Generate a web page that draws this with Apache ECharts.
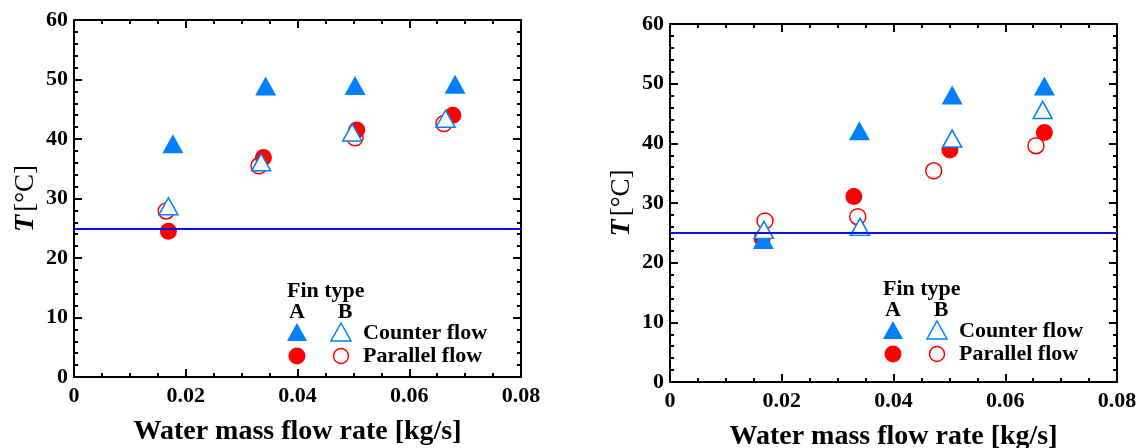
<!DOCTYPE html>
<html>
<head>
<meta charset="utf-8">
<script src="https://cdn.jsdelivr.net/npm/echarts@6/dist/echarts.min.js"></script>
<style>
  html, body { margin: 0; padding: 0; background: #fff; }
  #chart { width: 1145px; height: 448px; }
</style>
</head>
<body>
<div id="chart"></div>
<script>
// left panel data [flow rate kg/s, T °C]
var leftCounterA = [[0.0177, 39.2], [0.0343, 48.9], [0.0503, 49.0], [0.0682, 49.2]];
var leftCounterB = [[0.0169, 28.7], [0.0335, 36.1], [0.0498, 41.1], [0.0665, 43.4]];
var leftParallelA = [[0.0169, 24.5], [0.0339, 36.9], [0.0506, 41.5], [0.0678, 44.0]];
var leftParallelB = [[0.0165, 27.9], [0.0331, 35.5], [0.0503, 40.2], [0.0662, 42.6]];

// right panel data
var rightCounterA = [[0.0167, 23.9], [0.0339, 42.1], [0.0505, 48.1], [0.0670, 49.6]];
var rightCounterB = [[0.0168, 25.5], [0.0340, 26.0], [0.0505, 40.8], [0.0667, 45.6]];
var rightParallelA = [[0.0165, 24.1], [0.0329, 31.1], [0.0501, 38.9], [0.0670, 41.8]];
var rightParallelB = [[0.0170, 27.0], [0.0336, 27.7], [0.0472, 35.4], [0.0655, 39.6]];

var ambientT = 25;

var serif = "Liberation Serif";
var blue = '#0080ff';
var red = '#ff0000';

var chart = echarts.init(document.getElementById('chart'));

function xAxisOf(grid, pos) {
  var main = pos === 'bottom';
  return {
    type: 'value', gridIndex: grid, position: pos,
    min: 0, max: 0.08, interval: 0.02,
    name: main ? 'Water mass flow rate [kg/s]' : '',
    nameLocation: 'middle', nameGap: 41,
    nameTextStyle: { fontFamily: serif, fontWeight: 'bold', fontSize: 28, color: '#000' },
    axisLine: { show: true, onZero: false, lineStyle: { color: '#000', width: 2 } },
    axisTick: { show: true, inside: true, length: 8, lineStyle: { color: '#000', width: 2 } },
    minorTick: { show: true, splitNumber: 4, length: 4, lineStyle: { color: '#000', width: 2 } },
    splitLine: { show: false },
    axisLabel: {
      show: main, margin: 8, fontFamily: serif, fontWeight: 'bold', fontSize: 22, color: '#000',
      formatter: function (v) { return v === 0 ? '0' : v.toFixed(2); }
    }
  };
}

function yAxisOf(grid, pos) {
  var main = pos === 'left';
  return {
    type: 'value', gridIndex: grid, position: pos,
    min: 0, max: 60, interval: 10,
    name: main ? '{i|T} {n|[°C]}' : '',
    nameLocation: 'middle', nameGap: 34,
    nameTextStyle: {
      rich: {
        i: { fontFamily: serif, fontWeight: 'bold', fontStyle: 'italic', fontSize: 28, color: '#000' },
        n: { fontFamily: serif, fontSize: 27, color: '#000' }
      }
    },
    axisLine: { show: true, onZero: false, lineStyle: { color: '#000', width: 2 } },
    axisTick: { show: true, inside: true, length: 8, lineStyle: { color: '#000', width: 2 } },
    minorTick: { show: true, splitNumber: 5, length: 4, lineStyle: { color: '#000', width: 2 } },
    splitLine: { show: false },
    axisLabel: { show: main, margin: 6, fontFamily: serif, fontWeight: 'bold', fontSize: 22, color: '#000' }
  };
}

var tri = 'path://M0,-10L10,8L-10,8Z';

function panelSeries(idx, counterA, counterB, parallelA, parallelB) {
  return [
    {
      name: 'Parallel flow B', type: 'scatter', xAxisIndex: idx * 2, yAxisIndex: idx * 2,
      data: parallelB, symbol: 'circle', symbolSize: 16,
      itemStyle: { color: 'rgba(255,255,255,0)', borderColor: red, borderWidth: 1.5, opacity: 1 },
      markLine: {
        silent: true, symbol: 'none', label: { show: false },
        lineStyle: { color: '#1010ee', width: 2, type: 'solid' },
        data: [{ yAxis: ambientT }]
      }
    },
    {
      name: 'Parallel flow A', type: 'scatter', xAxisIndex: idx * 2, yAxisIndex: idx * 2,
      data: parallelA, symbol: 'circle', symbolSize: 17,
      itemStyle: { color: red, opacity: 1 }
    },
    {
      name: 'Counter flow A', type: 'scatter', xAxisIndex: idx * 2, yAxisIndex: idx * 2,
      data: counterA, symbol: tri, symbolSize: [21, 19],
      itemStyle: { color: blue, opacity: 1 }
    },
    {
      name: 'Counter flow B', type: 'scatter', xAxisIndex: idx * 2, yAxisIndex: idx * 2,
      data: counterB, symbol: tri, symbolSize: [19, 17],
      itemStyle: { color: '#fff', borderColor: blue, borderWidth: 1.5, opacity: 1 }
    }
  ];
}

function legendOf(x0, y0) {
  var t = { fontFamily: serif, fontWeight: 'bold', fontSize: 22, fill: '#000' };
  function txt(x, y, s, align) {
    return { type: 'text', x: x, y: y, style: Object.assign({ text: s, align: align || 'left', verticalAlign: 'middle' }, t) };
  }
  function triangle(x, y, filled) {
    return {
      type: 'polygon', x: x, y: y,
      shape: { points: [[0, -10], [10, 8], [-10, 8]] },
      style: filled ? { fill: blue } : { fill: '#fff', stroke: blue, lineWidth: 1.5 }
    };
  }
  function dot(x, y, filled) {
    return {
      type: 'circle', x: x, y: y, shape: { r: filled ? 8.5 : 7.5 },
      style: filled ? { fill: red } : { fill: 'none', stroke: red, lineWidth: 1.5 }
    };
  }
  return [
    txt(x0 - 10, y0, 'Fin type'),
    txt(x0, y0 + 21, 'A', 'center'),
    txt(x0 + 48, y0 + 21, 'B', 'center'),
    triangle(x0, y0 + 42, true),
    triangle(x0 + 44, y0 + 42, false),
    txt(x0 + 66, y0 + 42, 'Counter flow'),
    dot(x0, y0 + 65, true),
    dot(x0 + 44, y0 + 65, false),
    txt(x0 + 66, y0 + 65, 'Parallel flow')
  ];
}

var option = {
  animation: false,
  backgroundColor: '#fff',
  textStyle: { fontFamily: serif },
  grid: [
    { left: 74, top: 20, width: 447, height: 357, outerBoundsMode: 'none' },
    { left: 670, top: 24, width: 447, height: 358, outerBoundsMode: 'none' }
  ],
  xAxis: [xAxisOf(0, 'bottom'), xAxisOf(0, 'top'), xAxisOf(1, 'bottom'), xAxisOf(1, 'top')],
  yAxis: [yAxisOf(0, 'left'), yAxisOf(0, 'right'), yAxisOf(1, 'left'), yAxisOf(1, 'right')],
  series: panelSeries(0, leftCounterA, leftCounterB, leftParallelA, leftParallelB)
    .concat(panelSeries(1, rightCounterA, rightCounterB, rightParallelA, rightParallelB)),
  graphic: legendOf(297, 291).concat(legendOf(893, 289))
};

chart.setOption(option);
</script>
</body>
</html>
